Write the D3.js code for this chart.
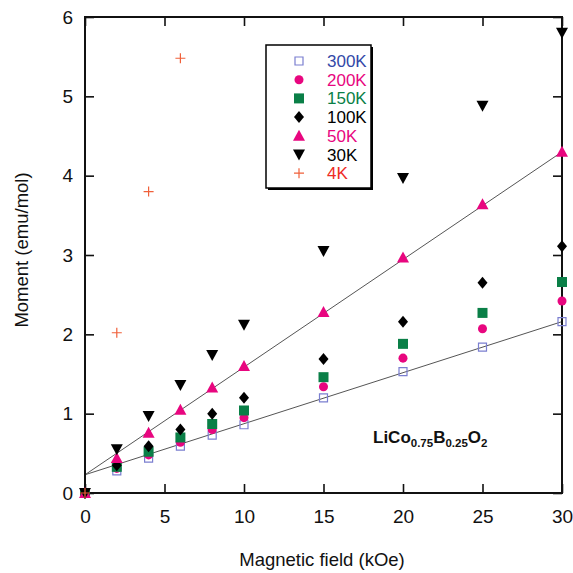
<!DOCTYPE html>
<html><head><meta charset="utf-8">
<script src="https://cdn.jsdelivr.net/npm/d3@7"></script>
<style>body{margin:0;background:#fff}svg{display:block;font-family:"Liberation Sans",Arial,sans-serif}</style>
</head><body><svg id="c" width="573" height="573"></svg>
<script>
const fields = [0, 2, 4, 6, 8, 10, 15, 20, 25, 30];
const m300K = [0, 0.28, 0.44, 0.59, 0.73, 0.86, 1.20, 1.53, 1.84, 2.16];
const m200K = [0, 0.31, 0.48, 0.64, 0.80, 0.95, 1.34, 1.70, 2.07, 2.42];
const m150K = [0, 0.33, 0.52, 0.70, 0.87, 1.04, 1.46, 1.88, 2.27, 2.66];
const m100K = [0, 0.35, 0.59, 0.80, 1.00, 1.20, 1.69, 2.16, 2.65, 3.11];
const m50K  = [0, 0.44, 0.76, 1.05, 1.33, 1.60, 2.28, 2.97, 3.64, 4.30];
const m30K  = [0, 0.55, 0.97, 1.36, 1.74, 2.12, 3.05, 3.97, 4.88, 5.80];
const fields4K = [0, 2, 4, 6];
const m4K = [0, 2.02, 3.80, 5.48];
const xTicks = [0, 5, 10, 15, 20, 25, 30];
const yTicks = [0, 1, 2, 3, 4, 5, 6];
const fitLow = [[0, 0.23], [30, 2.16]];
const fitHigh = [[0, 0.23], [30, 4.30]];

const series = [
  {name: "300K", x: fields, y: m300K, shape: "sq", fill: "none", stroke: "#7b7fd0", text: "#3348a8"},
  {name: "200K", x: fields, y: m200K, shape: "circle", fill: "#e8067f", stroke: "none", text: "#e8067f"},
  {name: "150K", x: fields, y: m150K, shape: "sqf", fill: "#0a7f47", stroke: "none", text: "#0a7f47"},
  {name: "100K", x: fields, y: m100K, shape: "diamond", fill: "#000", stroke: "none", text: "#000"},
  {name: "50K", x: fields, y: m50K, shape: "tri", fill: "#e8067f", stroke: "none", text: "#e8067f"},
  {name: "30K", x: fields, y: m30K, shape: "tridown", fill: "#000", stroke: "none", text: "#000"},
  {name: "4K", x: fields4K, y: m4K, shape: "plus", fill: "none", stroke: "#f0603a", text: "#ee2b24"}
];

const svg = d3.select("#c");
const L = 85, R = 562, T = 17, B = 493;
const x = d3.scaleLinear().domain([0, 30]).range([L, R]);
const y = d3.scaleLinear().domain([0, 6]).range([B, T]);

function path(shape) {
  switch (shape) {
    case "sq": return "M-4,-4H4V4H-4Z";
    case "sqf": return "M-5,-5H5V5H-5Z";
    case "circle": return d3.symbol(d3.symbolCircle, 64)();
    case "diamond": return "M0,-6L5,0L0,6L-5,0Z";
    case "tri": return "M0,-6L6,5H-6Z";
    case "tridown": return "M-6,-5H6L0,6Z";
    case "plus": return "M-5,0H5M0,-5V5";
  }
}

// fit lines
const line = d3.line().x(d => x(d[0])).y(d => y(d[1]));
[fitLow, fitHigh].forEach(f => svg.append("path").attr("d", line(f))
  .attr("stroke", "#555").attr("stroke-width", 1).attr("fill", "none"));

// axes with inward ticks
const g = svg.append("g");
g.append("g").attr("transform", `translate(0,${B})`)
  .call(d3.axisBottom(x).tickValues(xTicks).tickSize(-9).tickPadding(17).tickFormat(d3.format("d")));
g.append("g").attr("transform", `translate(0,${T})`)
  .call(d3.axisTop(x).tickValues(xTicks).tickSize(-9).tickFormat(""));
g.append("g").attr("transform", `translate(${L},0)`)
  .call(d3.axisLeft(y).tickValues(yTicks).tickSize(-9).tickPadding(12).tickFormat(d3.format("d")));
g.append("g").attr("transform", `translate(${R},0)`)
  .call(d3.axisRight(y).tickValues(yTicks).tickSize(-9).tickFormat(""));
g.selectAll(".domain").remove();
g.selectAll(".tick line").attr("stroke", "#111").attr("stroke-width", 1.6);
g.selectAll(".tick text").attr("font-size", 19).attr("fill", "#111").attr("font-family", "Liberation Sans, Arial, sans-serif");
svg.append("rect").attr("x", L).attr("y", T).attr("width", R - L).attr("height", B - T)
  .attr("fill", "none").attr("stroke", "#111").attr("stroke-width", 2);

// points
series.forEach(s => {
  svg.append("g").selectAll("path").data(s.x.map((v, i) => [v, s.y[i]])).join("path")
    .attr("transform", d => `translate(${x(d[0])},${y(d[1])})`)
    .attr("d", path(s.shape)).attr("fill", s.fill).attr("stroke", s.stroke)
    .attr("stroke-width", 1.2);
});

// legend
const lg = svg.append("g");
lg.append("rect").attr("x", 268).attr("y", 47).attr("width", 105).attr("height", 143).attr("fill", "#000");
lg.append("rect").attr("x", 266).attr("y", 45).attr("width", 105).attr("height", 143).attr("fill", "#fff").attr("stroke", "#000").attr("stroke-width", 1.5);
series.forEach((s, i) => {
  const yy = 61 + i * 18.7;
  lg.append("path").attr("transform", `translate(299,${yy})`).attr("d", path(s.shape))
    .attr("fill", s.fill).attr("stroke", s.stroke).attr("stroke-width", 1.2);
  lg.append("text").attr("x", 327).attr("y", yy + 6).attr("font-size", 17).attr("fill", s.text).text(s.name);
});

// compound label
const t = svg.append("text").attr("x", 373).attr("y", 443).attr("font-size", 17).attr("font-weight", "bold").attr("fill", "#111");
t.append("tspan").text("LiCo");
t.append("tspan").attr("font-size", 11.5).attr("dy", 4).text("0.75");
t.append("tspan").attr("dy", -4).text("B");
t.append("tspan").attr("font-size", 11.5).attr("dy", 4).text("0.25");
t.append("tspan").attr("dy", -4).text("O");
t.append("tspan").attr("font-size", 11.5).attr("dy", 4).text("2");

// axis titles
svg.append("text").attr("x", 322).attr("y", 566).attr("text-anchor", "middle").attr("font-size", 18.5).attr("fill", "#111").text("Magnetic field (kOe)");
svg.append("text").attr("transform", "translate(28,250) rotate(-90)").attr("text-anchor", "middle").attr("font-size", 18.5).attr("fill", "#111").text("Moment (emu/mol)");
</script></body></html>
